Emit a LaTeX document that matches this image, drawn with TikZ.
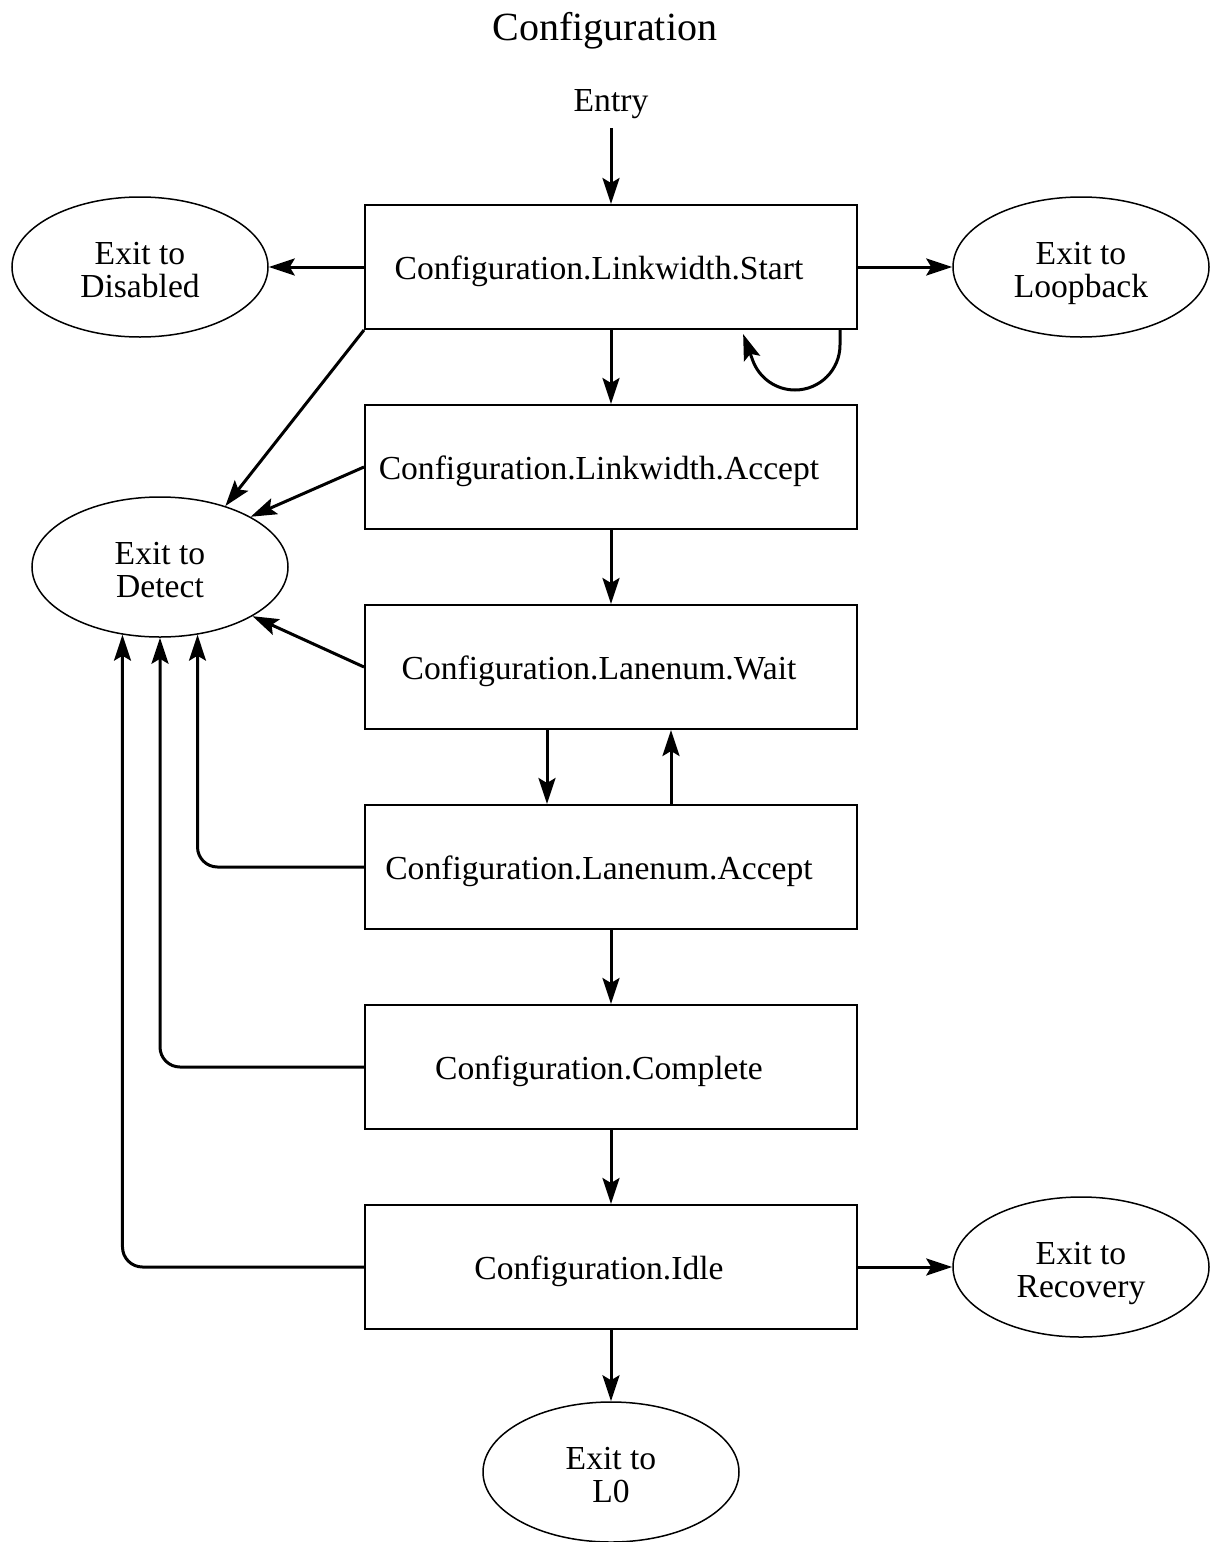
\documentclass[tikz,border=0pt]{standalone}
\usepackage{fontspec}
\setmainfont{Liberation Serif}
\usetikzlibrary{arrows.meta,shapes.geometric}
\tikzset{
  substate/.style={draw,line width=1pt,rectangle,minimum width=246pt,minimum height=62pt,inner sep=0pt,text height=12pt,text depth=0pt,execute at end node={\hspace*{12pt}}},
  exitstate/.style={draw,line width=0.75pt,ellipse,minimum width=128pt,minimum height=70pt,inner sep=0pt,align=center,text height=30pt,text depth=0pt},
  flow/.style={->,line width=1.5pt},
}

\begin{document}
\begin{tikzpicture}[>={Stealth[length=13pt,width=8.5pt,inset=2.5pt]},x=0.5pt,y=0.5pt,font=\fontsize{16.8}{16.5}\selectfont]
\useasboundingbox (0,0) rectangle (1210,-1542);
% title and entry
\node[font=\fontsize{20}{24}\selectfont] (title) at (605,-31) {Configuration};
\node[inner sep=4.5pt] (entry) at (611,-104) {Entry};
% substates
\node[substate] (lwstart) at (611,-267) {Configuration.Linkwidth.Start};
\node[substate] (lwaccept) at (611,-467) {Configuration.Linkwidth.Accept};
\node[substate] (lnwait) at (611,-667) {Configuration.Lanenum.Wait};
\node[substate] (lnaccept) at (611,-867) {Configuration.Lanenum.Accept};
\node[substate] (complete) at (611,-1067) {Configuration.Complete};
\node[substate] (idle) at (611,-1267) {Configuration.Idle};
% exits
\node[exitstate] (disabled) at (140,-267) {Exit to\\Disabled};
\node[exitstate] (loopback) at (1081,-267) {Exit to\\Loopback};
\node[exitstate] (detect) at (160,-567) {Exit to\\Detect};
\node[exitstate] (recovery) at (1081,-1267) {Exit to\\Recovery};
\node[exitstate] (lzero) at (611,-1472) {Exit to\\L0};
% main chain
\draw[flow] (entry) -- (lwstart);
\draw[flow] (lwstart) -- (lwaccept);
\draw[flow] (lwaccept) -- (lnwait);
\draw[flow] ([xshift=-32pt]lnwait.south) -- ([xshift=-32pt]lnaccept.north);
\draw[flow] ([xshift=30pt]lnaccept.north) -- ([xshift=30pt]lnwait.south);
\draw[flow] (lnaccept) -- (complete);
\draw[flow] (complete) -- (idle);
\draw[flow] (idle) -- (lzero);
% side exits
\draw[flow] (lwstart) -- (disabled);
\draw[flow] (lwstart) -- (loopback);
\draw[flow] (idle) -- (recovery);
\draw[flow] ([xshift=114.5pt]lwstart.south) -- ++(0,-15) arc[start angle=0,end angle=-160,radius=45] -- ++(110:28);
% back to detect
\draw[flow] (lwstart.south west) -- (detect.43);
\draw[flow] (lwaccept.west) -- (detect.29);
\draw[flow] (lnwait.west) -- (detect.-28);
\draw[flow,rounded corners=10pt] (lnaccept.west) -| (detect.-61);
\draw[flow,rounded corners=10pt] (complete.west) -| (detect.south);
\draw[flow,rounded corners=10pt] (idle.west) -| (detect.-119);
\end{tikzpicture}
\end{document}
